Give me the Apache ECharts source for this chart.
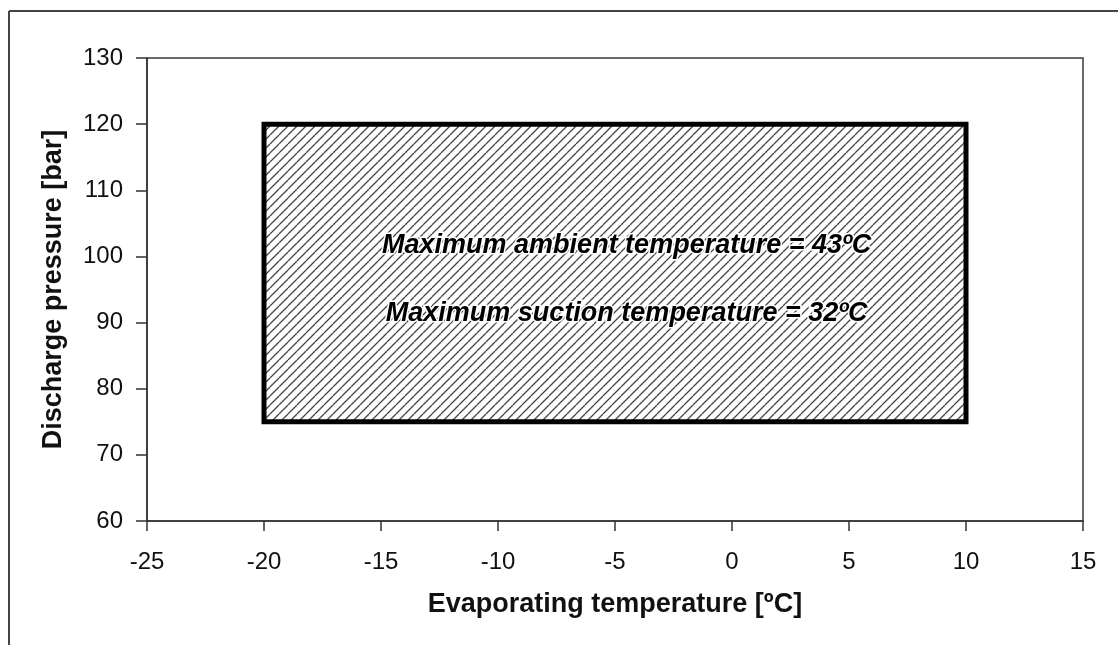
<!DOCTYPE html>
<html>
<head>
<meta charset="utf-8">
<title>Compressor operating envelope</title>
<script src="https://cdn.jsdelivr.net/npm/echarts@6/dist/echarts.min.js"></script>
<style>
  html, body { margin: 0; padding: 0; background: #ffffff; }
  #chart { width: 1118px; height: 645px; }
</style>
</head>
<body>
<div id="chart"></div>
<script>
// Axis ranges and tick spacing
const xRange = [-25, 15];
const xStep = 5;
const yRange = [60, 130];
const yStep = 10;

// Operating envelope: evaporating temperature span and discharge pressure span
const envelopeTemp = [-20, 10];      // ºC
const envelopePressure = [75, 120];  // bar

// Notes written inside the envelope (evaporating temperature, discharge pressure)
const noteTexts = [
  'Maximum ambient temperature = 43ºC',
  'Maximum suction temperature = 32ºC'
];
const noteTemp = [-4.5, -4.5];
const notePressure = [101.7, 91.3];

const FONT = '"Liberation Sans", Arial, Helvetica, sans-serif';

// Diagonal hatch fill
function makeHatch() {
  const s = 9;
  const c = document.createElement('canvas');
  c.width = s; c.height = s;
  const g = c.getContext('2d');
  g.fillStyle = '#ffffff';
  g.fillRect(0, 0, s, s);
  g.strokeStyle = '#444444';
  g.lineWidth = 1.3;
  g.beginPath();
  for (let k = -1; k <= 1; k++) {
    g.moveTo(k * s, s);
    g.lineTo(k * s + s, 0);
  }
  g.stroke();
  return c;
}
const hatch = makeHatch();

const chart = echarts.init(document.getElementById('chart'), null, { renderer: 'canvas' });

const envelopeData = [[envelopeTemp[0], envelopePressure[0], envelopeTemp[1], envelopePressure[1]]];
const noteData = noteTexts.map((t, i) => [noteTemp[i], notePressure[i], i]);

chart.setOption({
  animation: false,
  backgroundColor: '#ffffff',
  grid: {
    left: 147, right: 35, top: 58, bottom: 124,
    show: true, borderColor: '#3a3a3a', borderWidth: 1.5, backgroundColor: 'transparent'
  },
  graphic: [
    { type: 'line', shape: { x1: 9, y1: 11, x2: 1118, y2: 11 }, style: { stroke: '#444', lineWidth: 2 } },
    { type: 'line', shape: { x1: 9, y1: 11, x2: 9, y2: 645 }, style: { stroke: '#444', lineWidth: 2 } }
  ],
  xAxis: {
    type: 'value', min: xRange[0], max: xRange[1], interval: xStep,
    name: 'Evaporating temperature [ºC]', nameLocation: 'middle', nameGap: 70,
    nameTextStyle: { fontFamily: FONT, fontSize: 27, fontWeight: 'bold', color: '#111' },
    axisLine: { show: true, onZero: false, lineStyle: { color: '#333', width: 1.5 } },
    axisTick: { show: true, inside: false, length: 10, lineStyle: { color: '#333', width: 1.5 } },
    axisLabel: { fontFamily: FONT, fontSize: 24, color: '#111', margin: 29 },
    splitLine: { show: false }
  },
  yAxis: {
    type: 'value', min: yRange[0], max: yRange[1], interval: yStep,
    name: 'Discharge pressure [bar]', nameLocation: 'middle', nameGap: 80, nameRotate: 90,
    nameTextStyle: { fontFamily: FONT, fontSize: 27, fontWeight: 'bold', color: '#111' },
    axisLine: { show: true, onZero: false, lineStyle: { color: '#333', width: 1.5 } },
    axisTick: { show: true, inside: false, length: 11, lineStyle: { color: '#333', width: 1.5 } },
    axisLabel: { fontFamily: FONT, fontSize: 24, color: '#111', margin: 24 },
    splitLine: { show: false }
  },
  series: [
    {
      type: 'custom',
      name: 'envelope',
      data: envelopeData,
      encode: { x: [0, 2], y: [1, 3] },
      renderItem: function (params, api) {
        const p0 = api.coord([api.value(0), api.value(3)]);
        const p1 = api.coord([api.value(2), api.value(1)]);
        return {
          type: 'rect',
          shape: { x: p0[0], y: p0[1], width: p1[0] - p0[0], height: p1[1] - p0[1] },
          style: {
            fill: { image: hatch, repeat: 'repeat' },
            stroke: '#000000',
            lineWidth: 5
          }
        };
      },
      z: 2
    },
    {
      type: 'custom',
      name: 'notes',
      data: noteData,
      encode: { x: 0, y: 1 },
      renderItem: function (params, api) {
        const p = api.coord([api.value(0), api.value(1)]);
        return {
          type: 'text',
          x: p[0], y: p[1],
          style: {
            text: noteTexts[api.value(2)],
            font: 'italic bold 27px ' + FONT,
            fill: '#000000',
            stroke: '#ffffff',
            lineWidth: 3,
            align: 'center',
            verticalAlign: 'middle'
          }
        };
      },
      z: 3
    }
  ]
});
</script>
</body>
</html>
